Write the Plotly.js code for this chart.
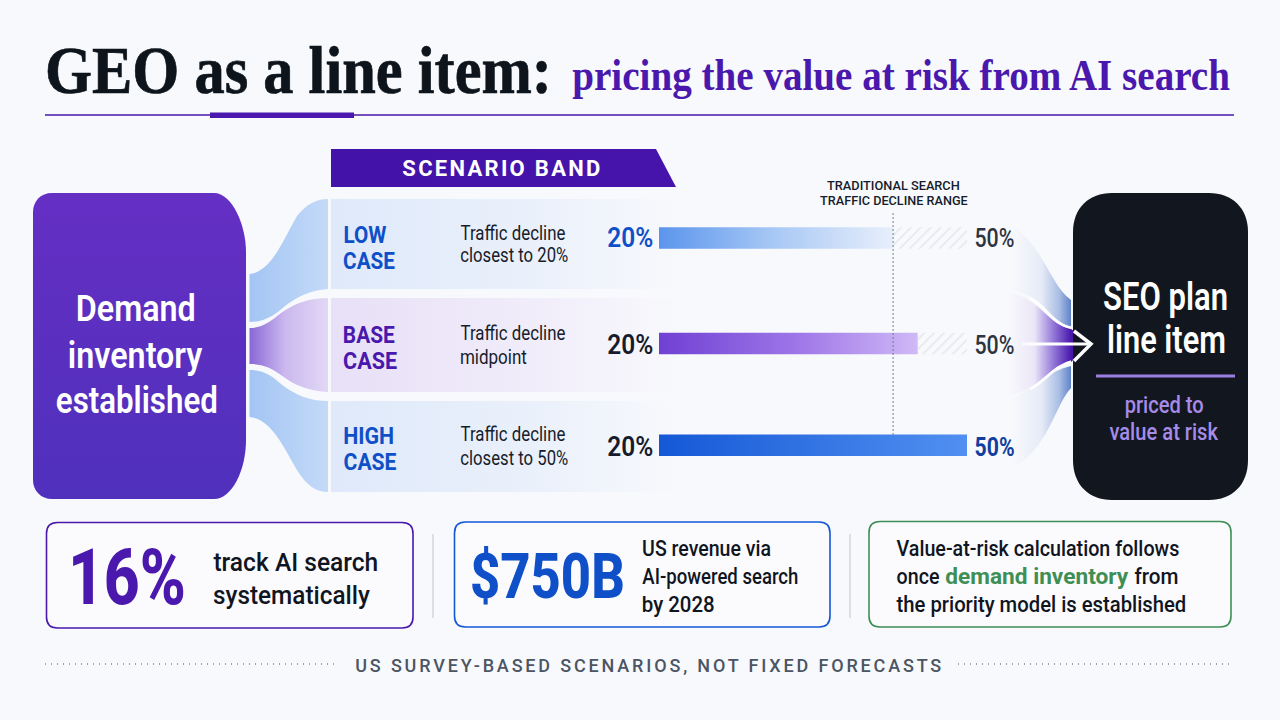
<!DOCTYPE html>
<html><head><meta charset="utf-8">
<script src="https://cdn.plot.ly/plotly-3.0.1.min.js"></script>
<style>html,body{margin:0;padding:0;background:#f8f9fc;overflow:hidden}#chart{width:1280px;height:720px}</style>
</head><body><div id="chart"></div>
<script>
// ---------- chart data ----------
const caseNames   = ['LOW CASE', 'BASE CASE', 'HIGH CASE'];
const rangeStart  = [20, 20, 20];
const coveredTo   = [42.8, 45.2, 50];
const rangeEnd    = [50, 50, 50];
const referenceTo = [42.8];
const trackedShare = ['16%'];
const revenueStat  = ['$750B'];

// ---------- page geometry helpers ----------
const W = 1280, H = 720;
const serif = '"Liberation Serif", serif', sans = 'Roboto, sans-serif';
const PURPLE = '#4a18ad', BLUE = '#0f4fc8', INK = '#161c2b', GREY = '#2d3441', GREEN = '#3f8f55';
const fx = p => p / W, fy = p => 1 - p / H;
const pth = s => s.replace(/(-?\d+\.?\d*)[ ,](-?\d+\.?\d*)/g, (m, a, b) => fx(+a).toFixed(5) + ' ' + fy(+b).toFixed(5));

const shapes = [], gradFor = {};
function S(path, o = {}) {
  const i = shapes.length;
  if (o.grad) gradFor[i] = o.grad;
  shapes.push({type: 'path', xref: 'paper', yref: 'paper', layer: 'below', path: pth(path),
    fillcolor: o.fill || (o.grad ? '#888888' : 'rgba(0,0,0,0)'),
    line: {color: o.line || 'rgba(0,0,0,0)', width: o.lw || 0, dash: o.dash || 'solid'}});
}
const annotations = [], fits = [];
function T(text, l, r, y, size, color, weight, fam, mode) {
  fits.push({w: r - l, mode: mode || 'glyphs'});
  annotations.push({text, xref: 'paper', yref: 'paper', x: fx((l + r) / 2), y: fy(y), xanchor: 'center', yanchor: 'middle',
    showarrow: false, font: {size, color, weight: weight || 400, family: fam || sans}});
}
const rr = (x0, y0, x1, y1, r) => `M${x0+r} ${y0} L${x1-r} ${y0} Q${x1} ${y0} ${x1} ${y0+r} L${x1} ${y1-r} Q${x1} ${y1} ${x1-r} ${y1} L${x0+r} ${y1} Q${x0} ${y1} ${x0} ${y1-r} L${x0} ${y0+r} Q${x0} ${y0} ${x0+r} ${y0} Z`;

// ---------- header ----------
S('M45 115 L1234 115', {line: PURPLE, lw: 1.6});
S('M210 112.5 L354 112.5 L354 118 L210 118 Z', {fill: PURPLE});
T('pricing the value at risk from AI search', 572, 1230, 76, 44, PURPLE, 700, serif);

// ---------- scenario ribbon ----------
S('M331 149 L656 149 L676 187 L331 187 Z', {grad: 'ribbon'});
T('SCENARIO BAND', 402, 600, 168, 22, '#ffffff', 700, sans, 'spacing');

// ---------- left box ----------
S('M52 193 L214 193 C232 193 246 225 246 252 L246 440 C246 470 232 499 214 499 L52 499 C41 499 33 491 33 480 L33 212 C33 201 41 193 52 193 Z', {grad: 'leftBox'});
T('Demand', 76, 196, 308, 37, '#ffffff', 600);
T('inventory', 68, 203, 355, 37, '#ffffff', 600);
T('established', 56, 218, 400, 37, '#ffffff', 600);

// ---------- left connectors ----------
S('M249.5 274 C272 272 285 236 297 216 C307 204 316 199 328 199 L328 289 C305 291 292 300 278 312 C268 319 260 322 249.5 322 Z', {grad: 'ribbonBlue'});
S('M249.5 328 C262 328 270 322 281 313 C295 303 310 298 328 298 L328 392 C310 391 295 386 281 375 C270 367 262 364 249.5 364 Z', {grad: 'ribbonPurple'});
S('M249.5 370 C262 370 270 374 281 384 C295 395 310 401 328 401 L328 492 C316 492 307 486 297 470 C285 450 272 419 249.5 417 Z', {grad: 'ribbonBlue'});

// ---------- row panels ----------
S('M331 199 L680 199 L680 289 L331 289 Z', {grad: 'panelBlue'});
S('M331 298 L680 298 L680 392 L331 392 Z', {grad: 'panelPurple'});
S('M331 401 L680 401 L680 492 L331 492 Z', {grad: 'panelBlue'});

// ---------- right connectors + box ----------
S('M1012 226 C1045 248 1050 285 1071 300 L1071 327 C1055 323 1048 308 1036 300 C1030 296 1020 292 1012 290 Z', {grad: 'flowBlue'});
S('M1008 292 C1040 298 1048 325 1071 329 L1071 362 C1048 366 1040 390 1008 396 Z', {grad: 'flowPurple'});
S('M1012 398 C1032 390 1045 372 1071 366 L1071 388 C1055 405 1048 450 1012 468 Z', {grad: 'flowBlue'});
S('M1030 298 C1046 306 1052 325 1073 328', {line: '#ffffff', lw: 2.5});
S('M1030 389 C1046 382 1052 366 1073 361', {line: '#ffffff', lw: 2.5});
S('M1071 329 L1092 344 L1071 362 Z', {fill: PURPLE});
S('M1112 193 L1209 193 C1232 193 1248 208 1248 232 L1248 460 C1248 485 1232 500 1209 500 L1112 500 C1089 500 1073 485 1073 460 L1073 232 C1073 208 1089 193 1112 193 Z', {fill: '#12171f'});
S('M1022 342.5 L1088 342.5 L1088 345.5 L1022 345.5 Z', {grad: 'shaft'});
S('M1074 331 L1091 344 L1074 361', {line: '#ffffff', lw: 3.5});
S('M1096 376 L1235 376', {line: '#9b7fe0', lw: 3});
T('SEO plan', 1103, 1228, 297, 38, '#ffffff', 600);
T('line item', 1107, 1226, 340, 38, '#ffffff', 600);
T('priced to', 1124, 1203, 405, 24, '#a68be8', 500);
T('value at risk', 1109, 1218, 432, 24, '#a68be8', 500);

// ---------- row labels ----------
const rowY = [[235, 261], [335, 361], [436, 462]];
const rowCol = [BLUE, PURPLE, BLUE];
const rowR = [[386, 395], [395, 397], [394, 396]];
caseNames.forEach((n, i) => {
  const parts = n.split(' ');
  T(parts[0], 343, rowR[i][0], rowY[i][0], 24, rowCol[i], 700);
  T(parts[1], 343, rowR[i][1], rowY[i][1], 24, rowCol[i], 700);
});
const D = 20.5;
T('Traffic decline', 460, 565, 233, D, INK);
T('closest to 20%', 460, 568, 255, D, INK);
T('Traffic decline', 460, 565, 333, D, INK);
T('midpoint', 460, 527, 357, D, INK);
T('Traffic decline', 460, 565, 434, D, INK);
T('closest to 50%', 460, 568, 458, D, INK);

// ---------- value labels ----------
const startCol = [BLUE, INK, INK], endCol = [GREY, GREY, '#123f9f'];
const barY = [238, 344, 446];
rangeStart.forEach((v, i) => T(v + '%', 607, 653, barY[i], 28, startCol[i], 600));
rangeEnd.forEach((v, i) => T(v + '%', 974, 1014, barY[i] + 1, 25, endCol[i], i === 2 ? 700 : 500));
T('TRADITIONAL SEARCH', 827, 960, 186, 12, INK, 500);
T('TRAFFIC DECLINE RANGE', 820, 968, 201, 12, INK, 500);

// ---------- stat cards ----------
S(rr(46.5, 522.5, 413, 628, 11), {fill: '#fbfbfe', line: PURPLE, lw: 1.6});
S(rr(454.5, 522, 830, 627, 11), {fill: '#fbfbfe', line: '#1558d6', lw: 1.6});
S(rr(869, 521.5, 1231, 627, 11), {fill: '#fbfbfe', line: GREEN, lw: 1.6});
S('M433 534 L433 618', {line: '#c8ccd4', lw: 1.2});
S('M850 534 L850 618', {line: '#c8ccd4', lw: 1.2});
T(trackedShare[0], 68, 186, 577, 78, PURPLE, 800);
T('track AI search', 213, 378, 561, 26.5, '#10151f', 500);
T('systematically', 213, 370, 594, 26.5, '#10151f', 500);
T(revenueStat[0], 470, 625, 576, 62, BLUE, 800);
T('US revenue via', 642, 771, 548, 22, '#10151f', 500);
T('AI-powered search', 642, 798, 576, 22, '#10151f', 500);
T('by 2028', 642, 715, 604, 22, '#10151f', 500);
T('Value-at-risk calculation follows', 896, 1179, 548, 22, '#10151f', 500);
T('once', 896, 939, 576, 22, '#10151f', 500);
T('demand inventory', 945, 1129, 576, 22, GREEN, 700);
T('from', 1134, 1178, 576, 22, '#10151f', 500);
T('the priority model is established', 896, 1186, 604, 22, '#10151f', 500);

// ---------- footer ----------
S('M45 664 L335 664', {line: '#7f8693', lw: 1.6, dash: '1px,5px'});
S('M958 664 L1232 664', {line: '#7f8693', lw: 1.6, dash: '1px,5px'});
T('US SURVEY-BASED SCENARIOS, NOT FIXED FORECASTS', 355, 941, 665, 18, '#4b5563', 500, sans, 'spacing');

// reference line in data units
shapes.push({type: 'line', xref: 'x', yref: 'paper', layer: 'above', x0: referenceTo[0], x1: referenceTo[0], y0: fy(213), y1: fy(435),
  line: {color: '#767d8a', width: 1, dash: '2px,2px'}});

// ---------- axes calibrated to the picture ----------
const pxFrom = 659, pxTo = 967, perPx = (rangeEnd[0] - rangeStart[0]) / (pxTo - pxFrom);
const xRange = [rangeStart[0] - pxFrom * perPx, rangeStart[0] + (W - pxFrom) * perPx];
const unit = (445.3 - 238) / 2;
const yRange = [2 + (H - 445.3) / unit, -238 / unit];
const barH = 21.4 / unit;
const barOffset = [-barH / 2, -barH / 2 + 1.8 / unit, -barH / 2];

const traces = [
  {type: 'bar', orientation: 'h', name: 'Covered range', y: caseNames, base: rangeStart,
   x: coveredTo.map((v, i) => v - rangeStart[i]), width: barH, offset: barOffset,
   marker: {color: ['#5b95ec', '#7040d4', '#1558d6'], line: {width: 0}}, hoverinfo: 'skip'},
  {type: 'bar', orientation: 'h', name: 'Remaining range', y: caseNames, base: coveredTo,
   x: rangeEnd.map((v, i) => v - coveredTo[i]), width: barH, offset: barOffset,
   marker: {color: 'rgba(0,0,0,0)', line: {width: 0},
     pattern: {shape: '/', fgcolor: '#dcdfe6', bgcolor: 'rgba(248,249,252,0)', size: 7, solidity: 0.16}}, hoverinfo: 'skip'}
];

const layout = {
  width: W, height: H, margin: {l: 0, r: 0, t: 0, b: 0}, showlegend: false,
  paper_bgcolor: '#f8f9fc', plot_bgcolor: 'rgba(0,0,0,0)', barmode: 'overlay',
  title: {text: 'GEO as a line item:', x: fx((45 + 552) / 2), xref: 'paper', xanchor: 'center', y: fy(69), yref: 'paper', yanchor: 'middle',
    font: {family: serif, size: 68, weight: 700, color: '#0d141c'}},
  xaxis: {visible: false, range: xRange, domain: [0, 1], fixedrange: true},
  yaxis: {visible: false, type: 'category', categoryorder: 'array', categoryarray: caseNames, range: yRange, domain: [0, 1], fixedrange: true},
  shapes, annotations
};

const gradients = {
  ribbon: [0, 0, 1, 0, [[0, '#4312a8'], [1, '#4614aa']]],
  leftBox: [0, 0, 0, 1, [[0, '#652fc4'], [1, '#4f30bc']]],
  ribbonBlue: [0, 0, 1, 0, [[0, '#a3c5f3'], [1, '#c4daf8']]],
  ribbonPurple: [0, 0, 1, 0, [[0, '#8a68d6'], [0.45, '#cbb8ee'], [1, '#e2d8f6']]],
  panelBlue: [0, 0, 1, 0, [[0, '#dfe9fa'], [0.55, '#e9f0fb'], [1, '#f8f9fc']]],
  panelPurple: [0, 0, 1, 0, [[0, '#e8e0f7'], [0.55, '#f0ecfa'], [1, '#f8f9fc']]],
  flowBlue: [0, 0, 1, 0, [[0, '#f8f9fc'], [0.5, '#e6ebf7'], [0.8, '#a9bde4'], [1, '#5f82c9']]],
  flowPurple: [0, 0, 1, 0, [[0, '#f8f9fc'], [0.42, '#ebe6f7'], [0.72, '#9478d8'], [1, '#4a18ad']]],
  shaft: [0, 0, 1, 0, [[0, '#f8f9fc'], [0.3, '#ffffff'], [1, '#ffffff']]],
  barLow: [0, 0, 1, 0, [[0, '#5b95ec'], [0.5, '#a9c9f5'], [1, '#e8effb']]],
  barBase: [0, 0, 1, 0, [[0, '#7040d4'], [0.55, '#a078e8'], [1, '#cfb9f6']]],
  barHigh: [0, 0, 1, 0, [[0, '#1558d6'], [1, '#5190f1']]]
};

// narrow a text element around its own centre so it spans the wanted width
function squeeze(t, w) {
  const b = t.getBBox();
  const cx = b.x + b.width / 2, sx = w / b.width;
  const prior = t.getAttribute('transform') || '';
  t.setAttribute('transform', `${prior} translate(${cx} 0) scale(${sx} 1) translate(${-cx} 0)`);
}

Plotly.newPlot('chart', traces, layout, {displayModeBar: false, staticPlot: true}).then(gd => {
  const svg = gd.querySelector('.main-svg');
  const NS = 'http://www.w3.org/2000/svg';
  let defs = svg.querySelector('defs');
  Object.entries(gradients).forEach(([id, [x1, y1, x2, y2, stops]]) => {
    const g = document.createElementNS(NS, 'linearGradient');
    g.id = id;
    g.setAttribute('x1', x1); g.setAttribute('y1', y1); g.setAttribute('x2', x2); g.setAttribute('y2', y2);
    stops.forEach(([o, c]) => { const s = document.createElementNS(NS, 'stop'); s.setAttribute('offset', o); s.setAttribute('stop-color', c); g.appendChild(s); });
    defs.appendChild(g);
  });
  Object.entries(gradFor).forEach(([i, id]) => {
    gd.querySelectorAll(`.shapelayer path[data-index="${i}"]`).forEach(p => { p.style.fill = `url(#${id})`; });
  });
  const barNames = ['barLow', 'barBase', 'barHigh'];
  const firstTrace = gd.querySelector('.barlayer .trace');
  firstTrace.querySelectorAll('.point path').forEach((p, i) => { p.style.fill = `url(#${barNames[i]})`; });
  fits.forEach((f, i) => {
    const t = gd.querySelector(`.annotation[data-index="${i}"] text`);
    if (!t) return;
    if (f.mode === 'spacing') {
      t.setAttribute('textLength', f.w); t.setAttribute('lengthAdjust', 'spacing');
    } else {
      squeeze(t, f.w);
    }
  });
  const ttl = gd.querySelector('.gtitle');
  if (ttl) {
    squeeze(ttl, 507);
    ttl.style.stroke = '#0d141c'; ttl.style.strokeWidth = '0.7px';
  }
});
</script></body></html>
